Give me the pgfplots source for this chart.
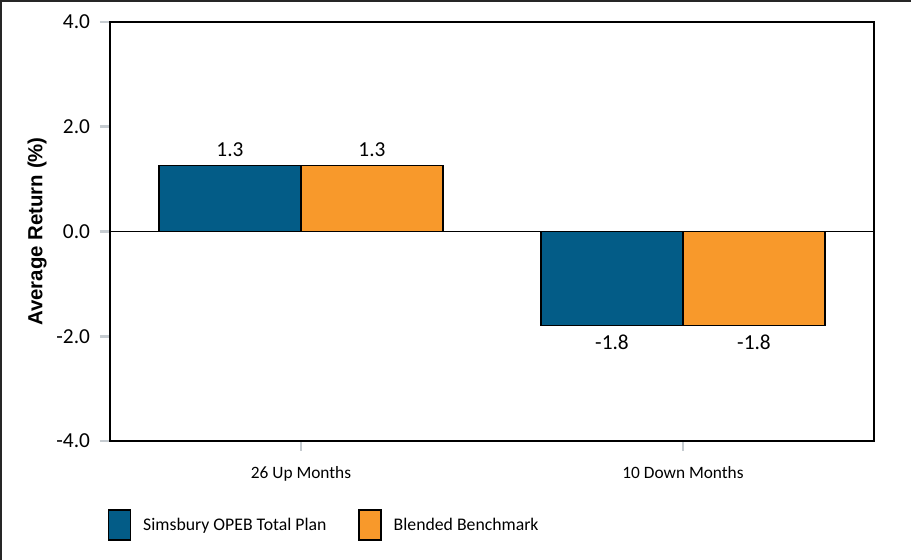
\documentclass[border=0pt]{standalone}
\usepackage{pgfplots}
\pgfplotsset{compat=1.18}
\usepackage{fontspec}
\setmainfont{Carlito}
\newfontfamily\labelfont{Liberation Sans}
\definecolor{planblue}{HTML}{035C87}
\definecolor{benchorange}{HTML}{F8992B}
\definecolor{tickgray}{HTML}{C5CBD0}
\begin{document}
\begin{tikzpicture}[font=\fontsize{12}{14}\selectfont]
  \path[use as bounding box] (0,0) rectangle (683.25pt,420pt);
  \begin{axis}[
      at={(82.5pt,89.25pt)}, anchor=south west,
      scale only axis,
      width=573pt, height=314.25pt,
      ybar=0pt,
      bar width=106.5pt,
      xmin=-0.5, xmax=1.5,
      ymin=-4, ymax=4,
      xtick={0,1},
      xticklabels={26 Up Months, 10 Down Months},
      ytick={-4,-2,0,2,4},
      xtick pos=bottom, ytick pos=left,
      tick align=outside,
      major tick length=7.5pt,
      tick style={tickgray, line width=2pt},
      x tick label style={yshift=-8pt, font=\fontsize{13}{15}\selectfont},
      y tick label style={xshift=-4pt, font=\fontsize{16}{18}\selectfont},
      axis line style={black, line width=1pt},
      yticklabel style={/pgf/number format/.cd, fixed, fixed zerofill, precision=1},
      /pgf/number format/assume math mode=true,
      extra y ticks={0},
      extra y tick labels={},
      extra y tick style={grid=major, major grid style={black, line width=1pt}, tick style={draw=none}},
      ylabel={\labelfont\bfseries Average Return (\%)},
      ylabel style={at={(axis description cs:-0.0955,0.5)}, anchor=center, font=\fontsize{15.3}{17}\selectfont},
      nodes near coords={\pgfmathprintnumber[fixed, precision=1]{\pgfplotspointmeta}},
      nodes near coords style={/pgf/number format/assume math mode=true,
        font=\fontsize{16}{18}\selectfont, inner ysep=6.5pt},
      legend columns=2,
      legend style={at={(axis description cs:-0.003,-0.2005)}, anchor=west, draw=none,
        inner sep=0pt, font=\fontsize{13.3}{15}\selectfont,
        /tikz/every even column/.append style={column sep=22pt}},
      legend image code/.code={
        \draw[#1, line width=0.9pt] (0pt,-11.25pt) rectangle (16.5pt,11.25pt);
        \path[draw=none, fill=none] (0pt,0pt) -- (24pt,0pt);
      },
    ]
    \addplot[fill=planblue, draw=black, line width=0.9pt] coordinates {(0,1.26) (1,-1.79)};
    \addplot[fill=benchorange, draw=black, line width=0.9pt] coordinates {(0,1.26) (1,-1.79)};
    \legend{Simsbury OPEB Total Plan, Blended Benchmark}
  \end{axis}
  \draw[black!85, line width=1.5pt] (0.75pt,0pt) -- (0.75pt,419pt) -- (683.25pt,419pt);
\end{tikzpicture}
\end{document}
